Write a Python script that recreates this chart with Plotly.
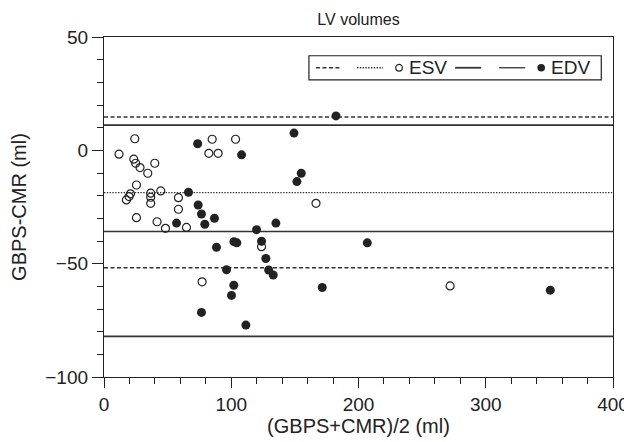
import plotly.graph_objects as go

# ---- data ----
esv_mean = [11.8, 24.2, 23.4, 24.9, 28.3, 39.9, 34.4, 25.5, 20.8, 19.7, 17.6, 36.7, 36.7, 36.7,
            44.6, 25.5, 41.7, 48.3, 58.5, 58.5, 64.8, 85.0, 103.4, 82.4, 89.7, 123.8, 77.1,
            166.6, 272.0]
esv_diff = [-1.7, 5.1, -3.9, -5.7, -7.6, -5.7, -10.1, -15.3, -19.2, -20.4, -21.9, -18.9, -20.7,
            -23.4, -17.9, -29.7, -31.5, -34.4, -20.9, -26.0, -34.0, 4.9, 4.9, -1.3, -1.3, -42.5,
            -58.0, -23.4, -59.8]
edv_mean = [73.6, 66.4, 57.0, 74.0, 76.6, 79.2, 86.8, 108.1, 149.3, 151.6, 155.0, 88.4, 102.1,
            104.4, 119.9, 123.8, 135.1, 127.2, 96.3, 129.4, 133.0, 102.0, 100.2, 76.6, 111.5,
            182.3, 206.9, 171.5, 350.7]
edv_diff = [2.9, -18.5, -32.1, -24.1, -28.1, -32.6, -30.0, -2.0, 7.6, -13.8, -10.1, -42.8, -40.3,
            -40.8, -35.0, -40.1, -32.1, -47.7, -52.7, -52.8, -55.0, -59.5, -64.0, -71.5, -77.1,
            15.2, -40.8, -60.5, -61.7]

esv_bias = -18.7
esv_loa = [14.7, -51.8]
edv_bias = -35.8
edv_loa = [11.1, -82.1]

x_range = [0, 400]
y_range = [-100, 50]
x_ticks = [0, 100, 200, 300, 400]
y_ticks = [-100, -50, 0, 50]

INK = "#222222"
LINE = "#333333"
FONT = "Liberation Sans, Arial, sans-serif"

fig = go.Figure()

# reference lines (ESV: dashed limits, dotted bias; EDV: solid)
for v in esv_loa:
    fig.add_trace(go.Scatter(x=x_range, y=[v, v], mode="lines", showlegend=False, hoverinfo="skip",
                             line=dict(color=LINE, width=1.3, dash="4px,2.5px")))
fig.add_trace(go.Scatter(x=x_range, y=[esv_bias, esv_bias], mode="lines", showlegend=False,
                         hoverinfo="skip", line=dict(color=LINE, width=1.3, dash="1.4px,1.4px")))
for v in edv_loa:
    fig.add_trace(go.Scatter(x=x_range, y=[v, v], mode="lines", showlegend=False, hoverinfo="skip",
                             line=dict(color=LINE, width=1.8)))
fig.add_trace(go.Scatter(x=x_range, y=[edv_bias, edv_bias], mode="lines", showlegend=False,
                         hoverinfo="skip", line=dict(color=LINE, width=1.3)))

fig.add_trace(go.Scatter(x=esv_mean, y=esv_diff, mode="markers", name="ESV", showlegend=False,
                         marker=dict(symbol="circle-open", size=8, color=INK, line=dict(width=1.2))))
fig.add_trace(go.Scatter(x=edv_mean, y=edv_diff, mode="markers", name="EDV", showlegend=False,
                         marker=dict(symbol="circle", size=9, color=INK, line=dict(width=0))))

# ---- layout geometry (page pixels; the page body adds an 8px offset) ----
OFF = 8
L, R, T, B = 104.3, 612.7, 37.3, 376.7
W, H = R - L, B - T


def px(x):
    return (x - L) / W


def py(y):
    return (B - y) / H


ly = 68
shapes = [
    dict(type="rect", xref="paper", yref="paper", x0=px(309), x1=px(601), y0=py(80), y1=py(56),
         line=dict(color=INK, width=1.2), fillcolor="white", layer="above"),
    dict(type="line", xref="paper", yref="paper", x0=px(316), x1=px(340), y0=py(ly), y1=py(ly),
         line=dict(color=LINE, width=1.3, dash="4px,2.5px"), layer="above"),
    dict(type="line", xref="paper", yref="paper", x0=px(357), x1=px(383), y0=py(ly), y1=py(ly),
         line=dict(color=LINE, width=1.3, dash="1.4px,1.4px"), layer="above"),
    dict(type="circle", xref="paper", yref="paper", xsizemode="pixel", ysizemode="pixel",
         xanchor=px(399), yanchor=py(ly), x0=-3.3, x1=3.3, y0=-3.3, y1=3.3,
         line=dict(color=INK, width=1.2), fillcolor="white", layer="above"),
    dict(type="line", xref="paper", yref="paper", x0=px(455), x1=px(481), y0=py(ly), y1=py(ly),
         line=dict(color=LINE, width=1.8), layer="above"),
    dict(type="line", xref="paper", yref="paper", x0=px(499), x1=px(525), y0=py(ly), y1=py(ly),
         line=dict(color=LINE, width=1.3), layer="above"),
    dict(type="circle", xref="paper", yref="paper", xsizemode="pixel", ysizemode="pixel",
         xanchor=px(541), yanchor=py(ly), x0=-3.8, x1=3.8, y0=-3.8, y1=3.8,
         line=dict(color=INK, width=0), fillcolor=INK, layer="above"),
]
annotations = [
    dict(text="ESV", xref="paper", yref="paper", x=px(407), y=py(ly), xanchor="left",
         yanchor="middle", showarrow=False, font=dict(family=FONT, size=19, color=INK)),
    dict(text="EDV", xref="paper", yref="paper", x=px(549), y=py(ly), xanchor="left",
         yanchor="middle", showarrow=False, font=dict(family=FONT, size=19, color=INK)),
]

axis_common = dict(showline=True, linecolor=INK, linewidth=1.3, mirror=True, showgrid=False,
                   zeroline=False, ticks="outside", tickcolor=INK, tickwidth=1.3,
                   automargin=False,
                   tickfont=dict(family=FONT, size=19, color=INK))

FW, FH = 632, 442
fig.update_layout(
    width=FW, height=FH,
    margin=dict(l=L - OFF, r=FW - (R - OFF), t=T - OFF, b=FH - (B - OFF), pad=0,
                autoexpand=False),
    paper_bgcolor="white", plot_bgcolor="white",
    showlegend=False,
    title=dict(text="LV volumes", x=(0.5 * (L + R) - OFF) / FW, xanchor="center",
               y=1 - (19 - OFF) / FH, yanchor="middle",
               font=dict(family=FONT, size=16, color=INK)),
    xaxis=dict(range=x_range, tickvals=x_ticks, ticklen=10,
               minor=dict(dtick=20, ticklen=6, tickcolor=INK, tickwidth=1.2, ticks="outside"),
               title=dict(text="(GBPS+CMR)/2 (ml)", font=dict(family=FONT, size=20, color=INK),
                          standoff=4),
               **axis_common),
    yaxis=dict(range=y_range, tickvals=y_ticks, ticklen=11,
               minor=dict(dtick=10, ticklen=6, tickcolor=INK, tickwidth=1.2, ticks="outside"),
               title=dict(text="GBPS-CMR (ml)", font=dict(family=FONT, size=20, color=INK),
                          standoff=14),
               **axis_common),
    shapes=shapes,
    annotations=annotations,
)

fig.write_html("out.html")
